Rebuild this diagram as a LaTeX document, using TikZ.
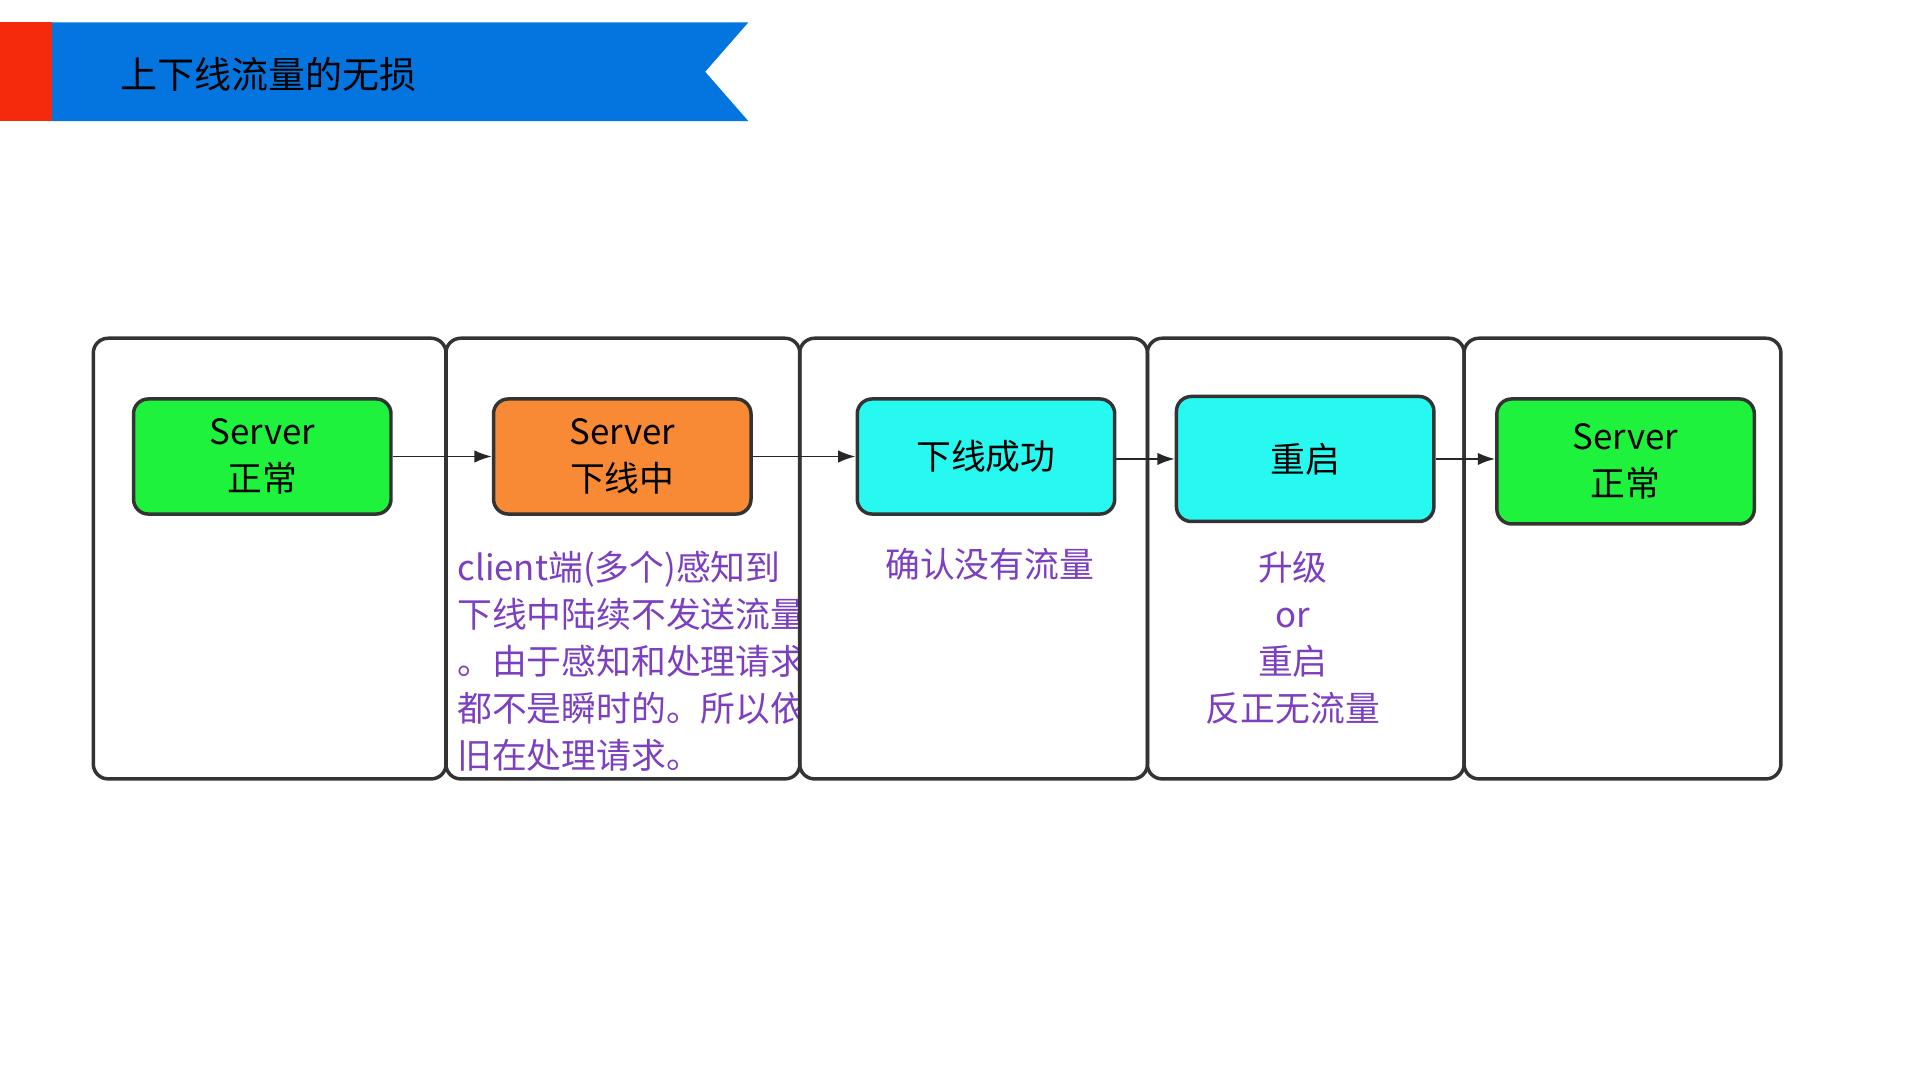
\documentclass[tikz,border=0pt]{standalone}
\usepackage{fontspec}
\setmainfont{Noto Sans CJK SC}
\usetikzlibrary{arrows.meta,positioning}
\definecolor{bannerblue}{HTML}{0475DE}
\definecolor{bannerred}{HTML}{F42A0A}
\definecolor{okgreen}{HTML}{1EF23C}
\definecolor{downorange}{HTML}{F98A35}
\definecolor{donecyan}{HTML}{27F8F0}
\definecolor{notepurple}{HTML}{7B3FC0}
\tikzset{
  stage/.style={rectangle, draw=black!80, thick, rounded corners=0.12cm, anchor=north west},
  state/.style={rectangle, draw=black!80, thick, rounded corners=0.12cm, minimum width=2.08cm, align=center, font=\fontsize{8pt}{10.8pt}\selectfont},
  note/.style={text=notepurple, font=\fontsize{8pt}{10.8pt}\selectfont},
  flow/.style={-{Latex[length=0.14cm,width=0.1cm]}, black!85}
}
\begin{document}
\begin{tikzpicture}[x=0.01cm,y=-0.01cm]
\useasboundingbox (0,0) rectangle (1552,873);

% title banner
\fill[bannerred] (0,18) rectangle (42,98);
\fill[bannerblue] (42,18) -- (605,18) -- (570,58) -- (605,98) -- (42,98) -- cycle;
\node[anchor=west, font=\fontsize{8.5pt}{10pt}\selectfont] (title) at (85,60) {上下线流量的无损};

% stages
\node[stage, minimum width=2.85cm, minimum height=3.56cm] (s1) at (74,272) {};
\node[stage, minimum width=2.86cm, minimum height=3.56cm] (s2) at (359,272) {};
\node[stage, minimum width=2.81cm, minimum height=3.56cm] (s3) at (645,272) {};
\node[stage, minimum width=2.56cm, minimum height=3.56cm] (s4) at (926,272) {};
\node[stage, minimum width=2.56cm, minimum height=3.56cm] (s5) at (1182,272) {};

% states
\node[state, fill=okgreen, minimum height=0.93cm] (normal) at (212,369) {Server\\正常};
\node[state, fill=downorange, minimum height=0.93cm] (going) at (503,369) {Server\\下线中};
\node[state, fill=donecyan, minimum height=0.93cm] (done) at (797,369) {下线成功};
\node[state, fill=donecyan, minimum height=1.01cm] (restart) at (1055,371) {重启};
\node[state, fill=okgreen, minimum height=1.01cm] (back) at (1314,373) {Server\\正常};

\draw[flow] (normal.east) -- (going.west);
\draw[flow] (going.east) -- (done.west);
\draw[flow] (done.east |- restart.west) -- (restart.west);
\draw[flow] (restart.east) -- (back.west |- restart.east);

% notes
\begin{scope}
\clip (359,430) rectangle (645,630);
\node[note, anchor=north west, align=left, inner sep=0pt] (clientnote) at (369,445) {client端(多个)感知到\\下线中陆续不发送流量\\。由于感知和处理请求\\都不是瞬时的。所以依\\旧在处理请求。};
\end{scope}
\node[note] (checknote) at (800,456) {确认没有流量};
\node[note, align=center, anchor=north, inner sep=0pt] (upnote) at (1045,445) {升级\\or\\重启\\反正无流量};
\end{tikzpicture}
\end{document}
